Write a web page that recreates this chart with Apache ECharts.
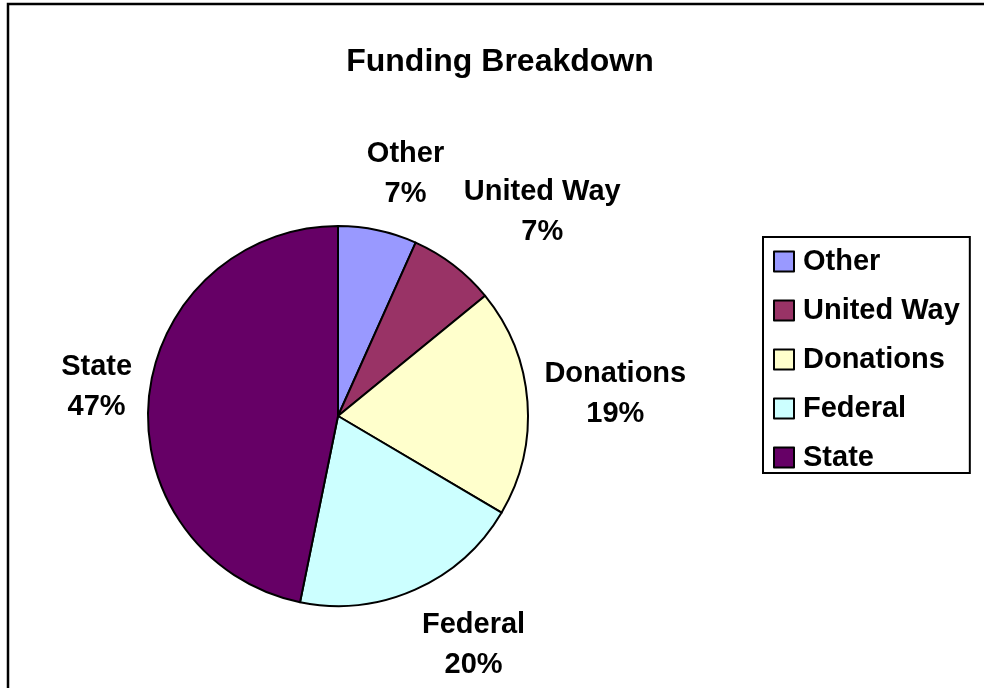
<!DOCTYPE html>
<html>
<head>
<meta charset="utf-8">
<script src="https://cdn.jsdelivr.net/npm/echarts@6/dist/echarts.min.js"></script>
<style>
html,body{margin:0;padding:0;background:#fff;}
#c{width:984px;height:688px;}
</style>
</head>
<body>
<div id="c"></div>
<script>
const titleText = 'Funding Breakdown';
const categories = ['Other', 'United Way', 'Donations', 'Federal', 'State'];
const values = [6.7, 7.4, 19.4, 19.7, 46.8];
const colors = ['#9999FF', '#993366', '#FFFFCC', '#CCFFFF', '#660066'];

const CX = 338, CY = 416, R = 190, GAP = 17;
const FONT = '"Liberation Sans", Arial, sans-serif';
const total = values.reduce((a, b) => a + b, 0);
const clamp = v => Math.max(-1, Math.min(1, v));

const chart = echarts.init(document.getElementById('c'), null, {renderer: 'canvas'});
chart.setOption({
  backgroundColor: '#fff',
  animation: false,
  color: colors,
  graphic: [{
    type: 'rect',
    shape: {x: 8, y: 4, width: 1000, height: 700},
    style: {fill: 'none', stroke: '#000', lineWidth: 2.5},
    silent: true
  }],
  title: {
    text: titleText,
    left: 495,
    textAlign: 'center',
    top: 41,
    textStyle: {fontFamily: FONT, fontWeight: 'bold', fontSize: 32, color: '#000'}
  },
  legend: {
    orient: 'vertical',
    left: 763,
    top: 237,
    padding: [10, 10, 1, 10],
    borderColor: '#000',
    borderWidth: 2,
    itemWidth: 20,
    itemHeight: 20,
    itemGap: 20,
    icon: 'rect',
    itemStyle: {borderColor: '#000', borderWidth: 2},
    textStyle: {fontFamily: FONT, fontWeight: 'bold', fontSize: 29, color: '#000', padding: [0, 0, 0, 4]},
    data: categories
  },
  series: [{
    type: 'pie',
    center: [CX, CY],
    radius: R,
    startAngle: 90,
    clockwise: true,
    avoidLabelOverlap: false,
    itemStyle: {borderColor: '#000', borderWidth: 2},
    emphasis: {disabled: true},
    label: {
      show: true,
      position: 'outside',
      fontFamily: FONT,
      fontWeight: 'bold',
      fontSize: 29,
      lineHeight: 40,
      color: '#000',
      align: 'center',
      formatter: p => p.name + '\n' + Math.round(p.percent) + '%'
    },
    labelLine: {show: false},
    labelLayout: function (params) {
      const i = params.dataIndex;
      let cum = 0;
      for (let j = 0; j < i; j++) cum += values[j];
      const mid = (cum + values[i] / 2) / total;
      const ang = -Math.PI / 2 + mid * 2 * Math.PI;
      const ux = Math.cos(ang), uy = Math.sin(ang);
      const px = CX + (R + GAP) * ux, py = CY + (R + GAP) * uy;
      const w = params.labelRect.width, h = params.labelRect.height;
      const fx = 0.5 - 0.5 * clamp(3 * ux);
      const fy = 0.5 + 0.5 * clamp(-2 * uy);
      return {x: px + (0.5 - fx) * w, y: py + (0.5 - fy) * h, align: 'center', verticalAlign: 'middle'};
    },
    data: categories.map((n, i) => ({name: n, value: values[i]}))
  }]
});
</script>
</body>
</html>
